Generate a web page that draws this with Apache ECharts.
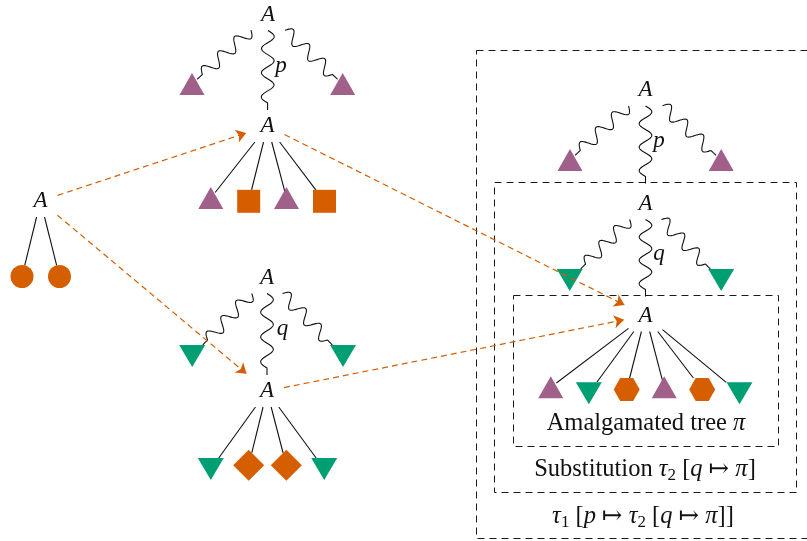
<!DOCTYPE html>
<html><head><meta charset="utf-8">
<script src="https://cdn.jsdelivr.net/npm/echarts@6/dist/echarts.min.js"></script>
<style>html,body{margin:0;padding:0;background:#fff}#c{width:807px;height:541px}</style>
</head><body><div id="c"></div><script>
// ---------- data (diagram units = pixels of the 807x541 canvas) ----------
// internal "A" nodes
const rootX = [40.5, 268, 267.5, 267, 267, 645.5, 645.5, 645.5];
const rootY = [201, 14.5, 126, 277.5, 391, 90, 203.5, 315.5];
const rootLabel = ['A','A','A','A','A','A','A','A'];

// leaves: kind, position, parent A node, link type (s = straight, w = wavy)
const leafKind = ['circle','circle','up','up','up','square','up','square','down','down',
                  'down','diamond','diamond','down','up','up','down','down',
                  'up','down','hex','up','hex','down'];
const leafX = [22, 59.5, 192, 342.7, 210.8, 248.7, 286.5, 324.5, 192.2, 343,
               210.8, 248.7, 286.3, 324.2, 570, 721.2, 569.7, 721.2,
               550.8, 588.8, 626.7, 664.2, 702.2, 739.5];
const leafY = [276.5, 276.5, 84, 84, 198, 201.3, 198, 201.3, 356, 356,
               469, 465.3, 465.3, 469, 160, 160, 280, 280,
               387.2, 393.3, 389.5, 387.2, 389.5, 393.3];
const leafParent = [0,0,1,1,2,2,2,2,3,3,4,4,4,4,5,5,6,6,7,7,7,7,7,7];
const leafLink = ['s','s','w','w','s','s','s','s','w','w','s','s','s','s','w','w','w','w','s','s','s','s','s','s'];

// wavy "spine" links: from an A node to the A node below it, or to the frame below it
const spineFrom = [1, 3, 5, 6];
const spineToRoot = [2, 4, -1, -1];
const spineToBox = [-1, -1, 1, 2];

// orange dashed arrows between A nodes
const arrowFrom = [0, 0, 2, 4];
const arrowTo = [2, 4, 7, 7];

// dashed frames
const boxX0 = [476, 494, 513];
const boxY0 = [50, 182, 295];
const boxX1 = [830, 796, 778];
const boxY1 = [538, 492, 446];

// variable labels on the spines
const varLabel = ['p', 'q', 'p', 'q'];
const varX = [281, 282.5, 659, 659];
const varY = [66, 329, 141, 254];

// captions
const captions = ['Amalgamated tree π', 'Substitution τ2 [q ↦ π]', 'τ1 [p ↦ τ2 [q ↦ π]]'];
const captionX = [646, 645, 643];
const captionY = [424, 469.5, 517];

// ---------- styling ----------
const PURPLE = '#A1608A', GREEN = '#009E73', ORANGE = '#D55E00';
const FONT = '"Liberation Serif", "DejaVu Serif", serif';
const FS = 23, CFS = 24.5;
const kindStyle = {
  circle:  {symbol: 'circle', size: 23, color: ORANGE, rot: 0},
  square:  {symbol: 'rect', size: 23, color: ORANGE, rot: 0},
  up:      {symbol: 'triangle', size: [25, 22], color: PURPLE, rot: 0},
  down:    {symbol: 'triangle', size: [26, 22], color: GREEN, rot: 180},
  diamond: {symbol: 'diamond', size: [31, 31], color: ORANGE, rot: 0},
  hex:     {symbol: 'path://M0,433L250,0L750,0L1000,433L750,866L250,866Z', size: [26, 23], color: ORANGE, rot: 0}
};

function rootClip(dx, dy) {
  return Math.min(17 / Math.max(Math.abs(dx), 1e-6), 16 / Math.max(Math.abs(dy), 1e-6));
}
function leafClip(kind, dx, dy) {
  const ax = Math.max(Math.abs(dx), 1e-6), ay = Math.max(Math.abs(dy), 1e-6);
  switch (kind) {
    case 'circle': return 11.5;
    case 'square': return Math.min(11.5 / ay, 11.5 / ax);
    case 'up': return 7;
    case 'down': return 11 / ay;
    case 'diamond': return 15.5 / (ax + ay);
    case 'hex': return 11.5 / ay;
  }
  return 10;
}
function unit(x0, y0, x1, y1) {
  const L = Math.hypot(x1 - x0, y1 - y0);
  return [(x1 - x0) / L, (y1 - y0) / L];
}

// build link geometry from the node arrays
const straightData = [], waveData = [];
leafX.forEach((lx, i) => {
  const p = leafParent[i];
  const px = rootX[p], py = rootY[p], ly = leafY[i];
  const [dx, dy] = unit(px, py, lx, ly);
  const t0 = rootClip(dx, dy), t1 = leafClip(leafKind[i], dx, dy);
  const seg = [px + dx * t0, py + dy * t0, lx - dx * t1, ly - dy * t1];
  if (leafLink[i] === 's') straightData.push({coords: [[seg[0], seg[1]], [seg[2], seg[3]]]});
  else waveData.push(seg);
});
spineFrom.forEach((a, k) => {
  const ax = rootX[a], ay = rootY[a];
  if (spineToRoot[k] >= 0) {
    const b = spineToRoot[k];
    const [dx, dy] = unit(ax, ay, rootX[b], rootY[b]);
    const t = rootClip(dx, dy);
    waveData.push([ax + dx * t, ay + dy * t, rootX[b] - dx * t, rootY[b] - dy * t]);
  } else {
    const by = boxY0[spineToBox[k]] + 1.5;
    waveData.push([ax, ay + 16, ax, by]);
  }
});
const arrowData = arrowFrom.map((a, k) => {
  const b = arrowTo[k];
  const [dx, dy] = unit(rootX[a], rootY[a], rootX[b], rootY[b]);
  const t = rootClip(dx, dy);
  return {coords: [[rootX[a] + dx * t, rootY[a] + dy * t], [rootX[b] - dx * (t + 4.5), rootY[b] - dy * (t + 4.5)]]};
});

const leafData = leafX.map((x, i) => {
  const s = kindStyle[leafKind[i]];
  return {value: [x, leafY[i]], symbol: s.symbol, symbolSize: s.size, symbolRotate: s.rot,
          itemStyle: {color: s.color, opacity: 1}};
});

// wave path: whole number of waves, then a short straight tail
const AMP = 6.3, WL = 24, TAIL = 7;
function wavePoints(p0, p1) {
  const dx = p1[0] - p0[0], dy = p1[1] - p0[1];
  const L = Math.hypot(dx, dy);
  const ux = dx / L, uy = dy / L, nx = uy, ny = -ux;
  const n = Math.max(1, Math.round((L - TAIL) / WL));
  const lam = (L - TAIL) / n;
  const wl = n * lam;
  const pts = [];
  const N = Math.ceil(L * 2);
  for (let i = 0; i <= N; i++) {
    const s = L * i / N;
    const off = s < wl ? AMP * Math.sin(2 * Math.PI * s / lam) : 0;
    pts.push([p0[0] + ux * s + nx * off, p0[1] + uy * s + ny * off]);
  }
  return pts;
}

// caption rich text
function toRich(s) {
  let out = '', buf = '', cls = null;
  const flush = () => { if (buf) { out += '{' + cls + '|' + buf + '}'; buf = ''; } };
  for (let k = 0; k < s.length; k++) {
    const c = s[k];
    let c2 = 'n';
    if (/[0-9]/.test(c) && s[k - 1] === 'τ') c2 = 's';
    else if (c === 'τ' || c === 'π') c2 = 'i';
    else if ((c === 'p' || c === 'q') && !/[A-Za-z]/.test(s[k - 1] || '') && !/[A-Za-z]/.test(s[k + 1] || '')) c2 = 'i';
    if (c2 !== cls) { flush(); cls = c2; }
    buf += c;
  }
  flush();
  return out;
}
const richStyles = {
  n: {fontFamily: FONT, fontSize: CFS, lineHeight: 29, fill: '#111'},
  i: {fontFamily: FONT, fontSize: CFS, fontStyle: 'italic', lineHeight: 29, fill: '#111'},
  s: {fontFamily: FONT, fontSize: 17, lineHeight: 17, verticalAlign: 'bottom', fill: '#111'}
};

function textSeries(xs, ys, texts, opts) {
  return {
    type: 'custom', coordinateSystem: 'cartesian2d', silent: true, z: 5,
    data: xs.map((x, i) => [x, ys[i]]),
    renderItem: (params, api) => {
      const p = api.coord([api.value(0), api.value(1)]);
      const t = texts[params.dataIndex];
      return {type: 'text', x: p[0], y: p[1], style: Object.assign({
        text: opts.rich ? toRich(t) : t, align: 'center', verticalAlign: 'middle', fill: '#111'
      }, opts.style)};
    }
  };
}

const chart = echarts.init(document.getElementById('c'), null, {renderer: 'canvas'});
chart.setOption({
  animation: false,
  backgroundColor: '#fff',
  grid: {left: 0, right: 0, top: 0, bottom: 0},
  xAxis: {type: 'value', min: 0, max: 807, show: false},
  yAxis: {type: 'value', min: 0, max: 541, inverse: true, show: false},
  series: [
    { // frames
      type: 'custom', coordinateSystem: 'cartesian2d', silent: true, z: 1,
      data: boxX0.map((x, i) => [x, boxY0[i], boxX1[i], boxY1[i]]),
      renderItem: (params, api) => {
        const a = api.coord([api.value(0), api.value(1)]);
        const b = api.coord([api.value(2), api.value(3)]);
        return {type: 'rect', shape: {x: a[0] + 0.5, y: a[1] + 0.5, width: b[0] - a[0], height: b[1] - a[1]},
          style: {fill: null, stroke: '#1a1a1a', lineWidth: 1, lineDash: [7, 5]}};
      }
    },
    { // straight tree edges
      type: 'lines', coordinateSystem: 'cartesian2d', silent: true, z: 2,
      data: straightData,
      lineStyle: {color: '#111', width: 1.1, opacity: 1}
    },
    { // wavy edges
      type: 'custom', coordinateSystem: 'cartesian2d', silent: true, z: 2,
      data: waveData,
      renderItem: (params, api) => {
        const p0 = api.coord([api.value(0), api.value(1)]);
        const p1 = api.coord([api.value(2), api.value(3)]);
        return {type: 'polyline', shape: {points: wavePoints(p0, p1)},
          style: {stroke: '#111', fill: null, lineWidth: 1.1}};
      }
    },
    { // leaves
      type: 'scatter', silent: true, z: 3,
      itemStyle: {opacity: 1},
      data: leafData
    },
    textSeries(rootX, rootY, rootLabel, {style: {font: 'italic ' + FS + 'px ' + FONT}}),
    textSeries(varX, varY, varLabel, {style: {font: 'italic ' + FS + 'px ' + FONT}}),
    textSeries(captionX, captionY, captions, {rich: true, style: {rich: richStyles, font: CFS + 'px ' + FONT}}),
    { // orange dashed arrows
      type: 'lines', coordinateSystem: 'cartesian2d', silent: true, z: 6,
      data: arrowData,
      symbol: ['none', 'arrow'], symbolSize: [7, 10],
      lineStyle: {color: ORANGE, width: 1.2, type: [6, 4], opacity: 1}
    }
  ]
});
</script></body></html>
